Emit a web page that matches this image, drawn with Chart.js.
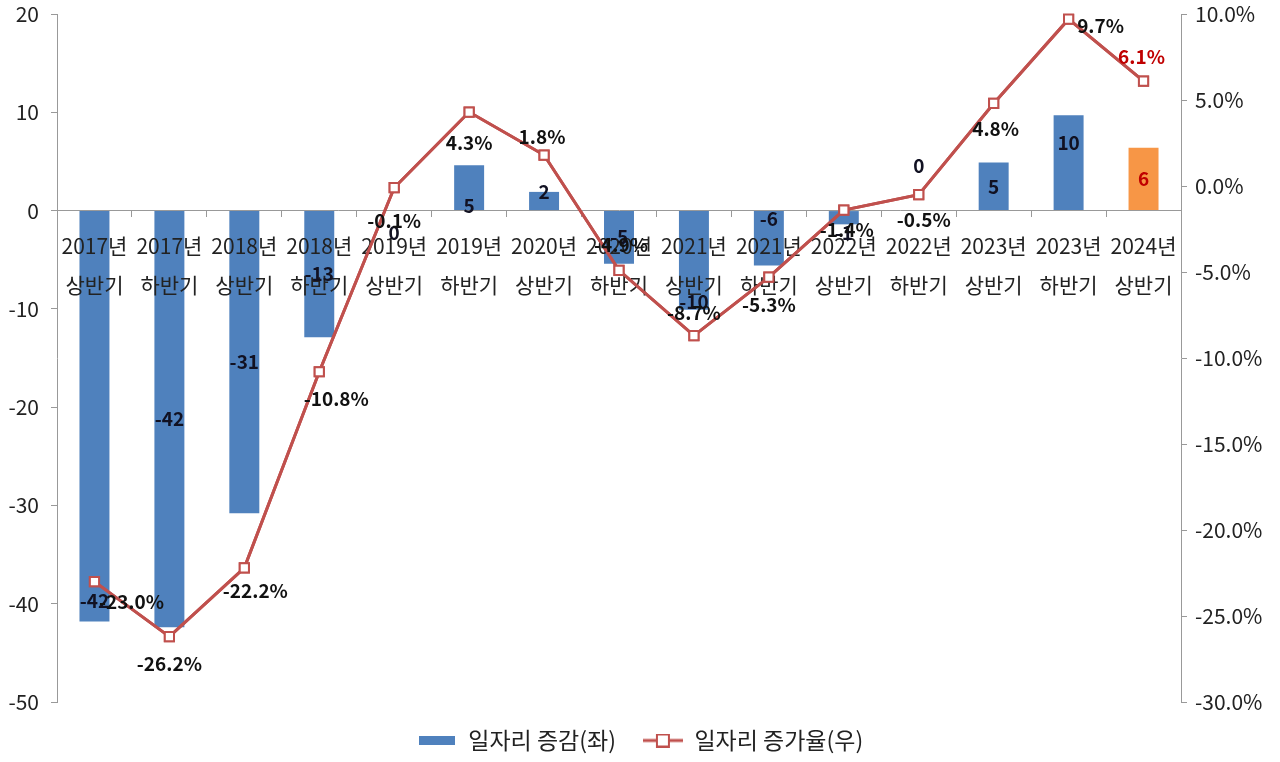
<!DOCTYPE html>
<html>
<head>
<meta charset="utf-8">
<script src="https://cdn.jsdelivr.net/npm/chart.js@4.4.1/dist/chart.umd.min.js"></script>
<style>
  html, body { margin: 0; padding: 0; background: #fff; }
  #wrap { width: 1280px; height: 762px; }
</style>
</head>
<body>
<div id="wrap"><canvas id="mycanvas" width="1280" height="762"></canvas></div>
<script>
// categories (two-line labels)
var categories = [
	['2017년', '상반기'], ['2017년', '하반기'], ['2018년', '상반기'], ['2018년', '하반기'],
	['2019년', '상반기'], ['2019년', '하반기'], ['2020년', '상반기'], ['2020년', '하반기'],
	['2021년', '상반기'], ['2021년', '하반기'], ['2022년', '상반기'], ['2022년', '하반기'],
	['2023년', '상반기'], ['2023년', '하반기'], ['2024년', '상반기']
];
// 일자리 증감 (left axis)
var jobChange = [-41.8, -42.4, -30.8, -12.9, 0, 4.6, 1.9, -5.4, -10.1, -5.6, -1.4, 0, 4.9, 9.7, 6.4];
// 일자리 증가율 % (right axis)
var growthRate = [-23.0, -26.2, -22.2, -10.8, -0.1, 4.3, 1.8, -4.9, -8.7, -5.3, -1.4, -0.5, 4.8, 9.7, 6.1];

var leftTicks = { min: -50, max: 20, step: 10 };
var rightTicks = { min: -30, max: 10, step: 5 };

// label placement (px offsets, not data)
var lineLabelOffset = [[37, 20], [0, 27], [11, 23], [17, 27], [0, 33], [0, 31], [-2, -18], [2, -25],
	[0, -23], [0, 28], [3, 20], [5, 25], [2, 25], [32, 7], [-2, -24]];
var barLabelAnchor = ['end', 'center', 'center', 'center', 'base', 'base', 'end', 'center',
	'end', 'base', 'base', 'base', 'center', 'end', 'center'];
var barLabelDy = [-21, 0, 0, 0, 22, -5, 0, 0, -8, 8, 22, -45, 0, 28, 0];

var FONT = "'Noto Sans CJK KR', 'Noto Sans', sans-serif";
var blue = '#4F81BD', orange = '#F79646', red = '#C0504D';

var barColors = jobChange.map(function(v, i) { return i === jobChange.length - 1 ? orange : blue; });

function legendBar() {
	var c = document.createElement('canvas');
	c.width = 36; c.height = 9;
	var g = c.getContext('2d');
	g.fillStyle = blue;
	g.fillRect(0, 0, 36, 9);
	return c;
}
function legendLine() {
	var c = document.createElement('canvas');
	c.width = 40; c.height = 14;
	var g = c.getContext('2d');
	g.strokeStyle = red; g.lineWidth = 3;
	g.beginPath(); g.moveTo(0, 7); g.lineTo(40, 7); g.stroke();
	g.fillStyle = '#fff'; g.lineWidth = 2;
	g.fillRect(14, 1, 12, 12); g.strokeRect(14, 1, 12, 12);
	return c;
}

var labelPlugin = {
	id: 'valueLabels',
	afterDraw: function(chart) {
		var ctx = chart.ctx;
		// line over the category labels
		var lineMeta = chart.getDatasetMeta(1);
		ctx.save();
		lineMeta.controller.draw();
		ctx.restore();

		ctx.save();
		ctx.textAlign = 'center';
		ctx.textBaseline = 'middle';
		ctx.font = 'bold 19px ' + FONT;

		var barMeta = chart.getDatasetMeta(0);
		var yScale = chart.scales.y;
		var zero = yScale.getPixelForValue(0);
		barMeta.data.forEach(function(bar, i) {
			var y;
			if (barLabelAnchor[i] === 'center') y = (bar.y + zero) / 2;
			else if (barLabelAnchor[i] === 'end') y = bar.y;
			else y = zero;
			y += barLabelDy[i];
			ctx.fillStyle = i === jobChange.length - 1 ? '#C00000' : '#111122';
			ctx.fillText(String(Math.round(jobChange[i])), bar.x, y);
		});

		lineMeta.data.forEach(function(pt, i) {
			ctx.fillStyle = i === growthRate.length - 1 ? '#C00000' : '#111';
			ctx.fillText(growthRate[i].toFixed(1) + '%', pt.x + lineLabelOffset[i][0], pt.y + lineLabelOffset[i][1]);
		});
		ctx.restore();
	}
};

function fixWidth(w) {
	return function(s) {
		s.width = w;
		s.paddingTop = 0;
		s.paddingBottom = 0;
	};
}

var ctx = document.getElementById('mycanvas');

var chartdata = {
	labels: categories,
	datasets: [
		{
			type: 'bar',
			label: '일자리 증감(좌)',
			data: jobChange,
			backgroundColor: barColors,
			borderWidth: 0,
			barPercentage: 0.4,
			categoryPercentage: 1.0,
			yAxisID: 'y',
			order: 2
		},
		{
			type: 'line',
			label: '일자리 증가율(우)',
			data: growthRate,
			borderColor: red,
			borderWidth: 3,
			pointStyle: 'rect',
			pointRadius: 6.5,
			pointBorderWidth: 2,
			pointBackgroundColor: '#fff',
			pointBorderColor: red,
			tension: 0,
			yAxisID: 'y1',
			order: 1
		}
	]
};

var chart = new Chart(ctx, {
	data: chartdata,
	plugins: [labelPlugin],
	options: {
		responsive: false,
		animation: false,
		layout: { padding: { top: 14, bottom: 0, left: 0, right: 0 } },
		plugins: {
			tooltip: { enabled: false },
			legend: {
				position: 'bottom',
				labels: {
					usePointStyle: true,
					pointStyleWidth: 40,
					padding: 27,
					color: '#222',
					font: { size: 23, family: FONT },
					generateLabels: function(c) {
						return c.data.datasets.map(function(ds, i) {
							return {
								text: ds.label,
								pointStyle: i === 0 ? legendBar() : legendLine(),
								fillStyle: 'transparent',
								strokeStyle: 'transparent',
								lineWidth: 0,
								fontColor: '#222',
								datasetIndex: i
							};
						});
					}
				}
			}
		},
		scales: {
			x: {
				position: { y: 0 },
				offset: true,
				grid: {
					offset: true,
					drawOnChartArea: false,
					drawTicks: true,
					tickLength: 6,
					tickColor: '#999'
				},
				border: { display: true, color: '#999', width: 1 },
				ticks: {
					z: 1,
					color: '#222',
					padding: 9,
					maxRotation: 0,
					autoSkip: false,
					font: { size: 21, family: FONT, lineHeight: 1.9 }
				}
			},
			y: {
				position: 'left',
				min: leftTicks.min,
				max: leftTicks.max,
				afterFit: fixWidth(57),
				grid: { drawOnChartArea: false, tickLength: 6, tickColor: '#999' },
				border: { display: true, color: '#999', width: 1 },
				ticks: {
					stepSize: leftTicks.step,
					color: '#222',
					padding: 12,
					font: { size: 21, family: FONT }
				}
			},
			y1: {
				position: 'right',
				min: rightTicks.min,
				max: rightTicks.max,
				afterFit: fixWidth(99),
				grid: { drawOnChartArea: false, tickLength: 6, tickColor: '#999' },
				border: { display: true, color: '#999', width: 1 },
				ticks: {
					stepSize: rightTicks.step,
					color: '#222',
					padding: 8,
					font: { size: 21, family: FONT },
					callback: function(v) { return v.toFixed(1) + '%'; }
				}
			}
		}
	}
});
</script>
</body>
</html>
